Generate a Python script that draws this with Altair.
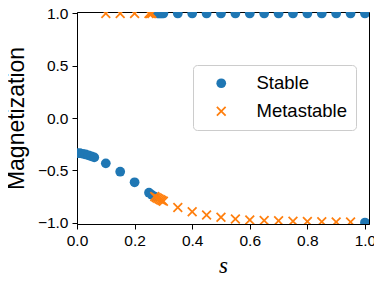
import altair as alt
import pandas as pd

# Stable branch
stable_s = [0.0, 0.01, 0.02, 0.03, 0.04, 0.05, 0.06, 0.10, 0.15, 0.20, 0.25, 0.26, 0.27,
            0.28, 0.285, 0.29, 0.295, 0.30, 0.35, 0.40, 0.45, 0.50, 0.55, 0.60, 0.65,
            0.70, 0.75, 0.80, 0.85, 0.90, 0.95, 1.00, 1.00]
stable_m = [-0.335, -0.337, -0.342, -0.349, -0.357, -0.366, -0.377, -0.434, -0.514, -0.615,
            -0.715, -0.735, -0.752,
            1.0, 1.0, 1.0, 1.0, 1.0, 1.0, 1.0, 1.0, 1.0, 1.0, 1.0, 1.0,
            1.0, 1.0, 1.0, 1.0, 1.0, 1.0, 1.0, -1.0]

# Metastable branch
meta_s = [0.10, 0.15, 0.20, 0.25, 0.255, 0.26,
          0.27, 0.275, 0.28, 0.285, 0.29, 0.295, 0.30, 0.35, 0.40, 0.45, 0.50, 0.55,
          0.60, 0.65, 0.70, 0.75, 0.80, 0.85, 0.90, 0.95]
meta_m = [1.0, 1.0, 1.0, 1.0, 1.0, 1.0,
          -0.752, -0.76, -0.768, -0.776, -0.783, -0.79, -0.797, -0.855, -0.897, -0.928,
          -0.95, -0.965, -0.975, -0.98, -0.984, -0.987, -0.99, -0.992, -0.994, -0.996]

labels = ["Stable", "Metastable"]
x_ticks = [0.0, 0.2, 0.4, 0.6, 0.8, 1.0]
y_ticks = [-1.0, -0.5, 0.0, 0.5, 1.0]

df = pd.concat([
    pd.DataFrame({"s": stable_s, "m": stable_m, "kind": labels[0]}),
    pd.DataFrame({"s": meta_s, "m": meta_m, "kind": labels[1]}),
], ignore_index=True)

X_PATH = ("M-1,-0.75L-0.75,-1L0,-0.25L0.75,-1L1,-0.75L0.25,0L1,0.75L0.75,1"
          "L0,0.25L-0.75,1L-1,0.75L-0.25,0Z")

FONT = "Liberation Sans"

chart = alt.Chart(df).mark_point(filled=True, opacity=1, clip=True).encode(
    x=alt.X("s:Q",
            scale=alt.Scale(domain=[0, 1.014], nice=False, zero=False),
            axis=alt.Axis(values=x_ticks, format=".1f", title="s",
                          labelFlush=False, labelOverlap=False,
                          titleFont="Liberation Serif", titleFontStyle="italic",
                          titleFontWeight="normal", titleFontSize=23,
                          titlePadding=6)),
    y=alt.Y("m:Q",
            scale=alt.Scale(domain=[-1.014, 1.014], nice=False, zero=False),
            axis=alt.Axis(values=y_ticks, format=".1f", title="Magnetization",
                          labelFlush=False, labelOverlap=False,
                          titleFont=FONT, titleFontWeight="normal", titleFontSize=23,
                          titlePadding=9)),
    color=alt.Color("kind:N",
                    scale=alt.Scale(domain=labels, range=["#1f77b4", "#ff7f0e"]),
                    legend=alt.Legend(title=None, orient="none", legendX=116, legendY=53,
                                      labelFont=FONT, labelFontSize=18.5,
                                      symbolSize=115, symbolOffset=10, labelOffset=26,
                                      rowPadding=9, padding=9,
                                      strokeColor="#cccccc", cornerRadius=4,
                                      fillColor="white")),
    shape=alt.Shape("kind:N",
                    scale=alt.Scale(domain=labels, range=["circle", X_PATH]),
                    legend=None),
    size=alt.Size("kind:N", scale=alt.Scale(domain=labels, range=[95, 100]), legend=None),
).properties(
    width=292,
    height=212,
    autosize=alt.AutoSizeParams(type="none"),
    padding={"left": 69, "top": 4, "right": 5, "bottom": 54},
).configure_view(
    stroke="black", strokeWidth=1
).configure_axis(
    grid=False, domainColor="black", tickColor="black", tickSize=5,
    labelFont=FONT, labelFontSize=15.5, labelColor="black", labelPadding=4,
    titleColor="black", domainWidth=1, tickWidth=1
)

chart.save("out.html", embed_options={"renderer": "svg", "actions": False})
